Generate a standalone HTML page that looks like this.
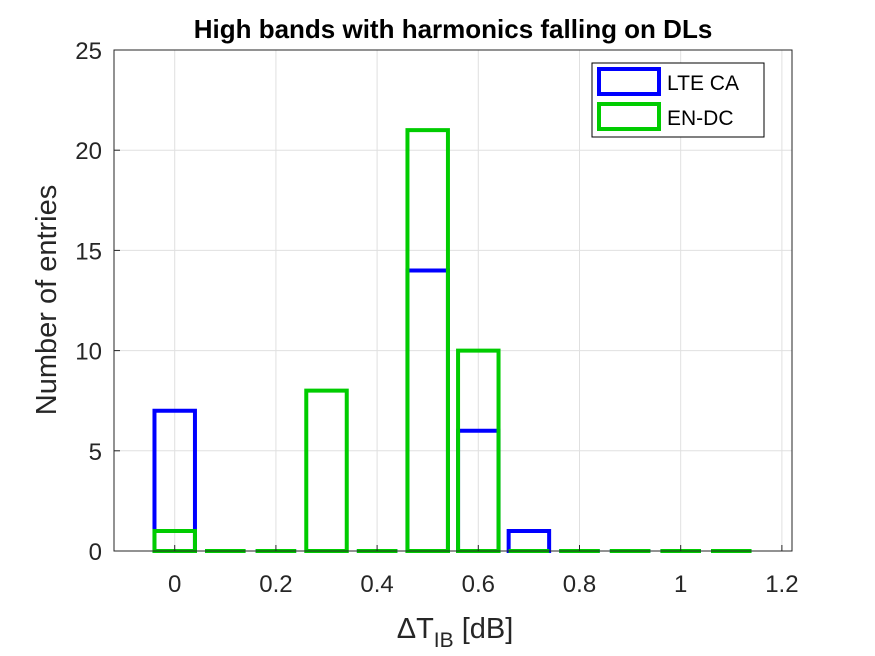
<!DOCTYPE html>
<html><head><meta charset="utf-8"><style>
body{margin:0;background:#fff;}
svg{display:block;font-family:"Liberation Sans",Arial,sans-serif;}
</style></head><body>
<svg id="chart" width="875" height="656" viewBox="0 0 875 656">
<rect x="0" y="0" width="875" height="656" fill="#fff"/>
<g id="grid"></g>
<g id="bars"></g>
<g id="axes"></g>
<text x="453" y="38" text-anchor="middle" font-size="26" font-weight="bold">High bands with harmonics falling on DLs</text>
<text x="455" y="638" text-anchor="middle" font-size="29" fill="#262626">ΔT<tspan font-size="21" dy="9">IB</tspan><tspan dy="-9"> [dB]</tspan></text>
<text transform="translate(56,300) rotate(-90)" text-anchor="middle" font-size="29" fill="#262626">Number of entries</text>
<g>
<rect x="592" y="63" width="172" height="74" fill="#fff" stroke="#000" stroke-width="1"/>
<rect x="599" y="69" width="60" height="25" fill="none" stroke="#0000ff" stroke-width="4"/>
<text x="667" y="90" font-size="21">LTE CA</text>
<rect x="599" y="104" width="60" height="25" fill="none" stroke="#00cc00" stroke-width="4"/>
<text x="667" y="125" font-size="21">EN-DC</text>
</g>
</svg>
<script>
const binCenters=[0,0.1,0.2,0.3,0.4,0.5,0.6,0.7,0.8,0.9,1.0,1.1];
const lteCA=[7,0,0,0,0,14,6,1,0,0,0,0];
const enDC=[1,0,0,8,0,21,10,0,0,0,0,0];
const xTicks=[0,0.2,0.4,0.6,0.8,1,1.2];
const xTickLabels=["0","0.2","0.4","0.6","0.8","1","1.2"];
const yTicks=[0,5,10,15,20,25];
const L=114,R=792,T=50,B=551,xMin=-0.12,xMax=1.22,yMax=25;
const binW=0.08;
const X=v=>L+(v-xMin)/(xMax-xMin)*(R-L);
const Y=v=>B-v/yMax*(B-T);
const NS="http://www.w3.org/2000/svg";
function mk(tag,parent,attrs){const e=document.createElementNS(NS,tag);for(const k in attrs)e.setAttribute(k,attrs[k]);parent.appendChild(e);return e;}
const grid=document.getElementById('grid'),bars=document.getElementById('bars'),axes=document.getElementById('axes');
xTicks.forEach((t,i)=>{
 const gl=mk('line',grid,{x1:X(t),x2:X(t),y1:T,y2:B,stroke:'#e0e0e0','stroke-width':1});
 
 
 const tk=mk('line',axes,{x1:X(t),x2:X(t),y1:B,y2:B-6,stroke:'#262626'});
 
 
 const tx=mk('text',axes,{x:X(t),y:B+41,'text-anchor':'middle','font-size':24,fill:'#262626'});
 tx.textContent=xTickLabels[i];
 
 
});
yTicks.forEach(t=>{
 const gl=mk('line',grid,{x1:L,x2:R,y1:Y(t),y2:Y(t),stroke:'#e0e0e0','stroke-width':1});
 
 
 const tk=mk('line',axes,{x1:L,x2:L+6,y1:Y(t),y2:Y(t),stroke:'#262626'});
 
 
 const tx=mk('text',axes,{x:L-12,y:Y(t)+9,'text-anchor':'end','font-size':24,fill:'#262626'});
 tx.textContent=String(t);
 
 
});
const frame=mk('rect',axes,{x:L,y:T,width:R-L,height:B-T,fill:'none',stroke:'#262626','stroke-width':1});


function drawSeries(vals,color,name){
 binCenters.forEach((c,i)=>{
  const x0=X(c-binW/2),x1=X(c+binW/2),y=Y(vals[i]);
  const d='M'+x0+','+B+'L'+x0+','+y+'L'+x1+','+y+'L'+x1+','+B+'Z';
  const r=mk('path',bars,{d:d,fill:'none',stroke:color,'stroke-width':4});
  
  
 });
}
drawSeries(lteCA,'#0000ff','lte-ca');
drawSeries(enDC,'#00cc00','en-dc');
</script>
</body></html>
